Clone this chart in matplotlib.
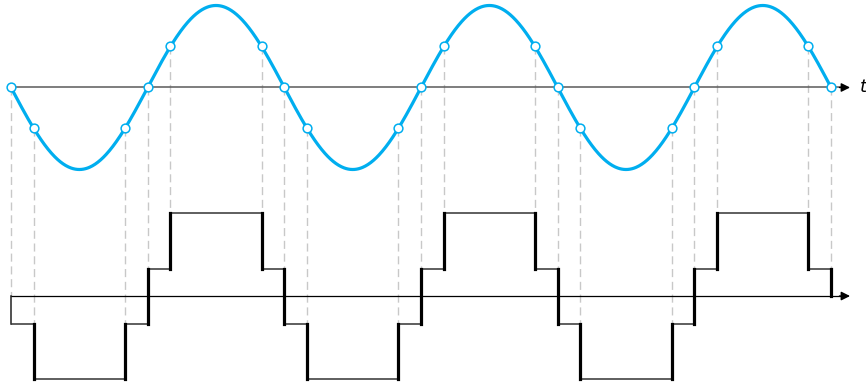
import numpy as np
import matplotlib
matplotlib.use('Agg')
import matplotlib.pyplot as plt

# ---- data ----
sample_phase_deg = [0, 30, 150, 180, 210, 330,
                    360, 390, 510, 540, 570, 690,
                    720, 750, 870, 900, 930, 1050,
                    1080]
sample_value = [0, -0.5, -0.5, 0, 0.5, 0.5,
                0, -0.5, -0.5, 0, 0.5, 0.5,
                0, -0.5, -0.5, 0, 0.5, 0.5,
                0]
# held (quantized) level on each interval between consecutive samples
hold_levels = [-0.5, -1.5, -0.5, 0.5, 1.5, 0.5,
               -0.5, -1.5, -0.5, 0.5, 1.5, 0.5,
               -0.5, -1.5, -0.5, 0.5, 1.5, 0.5]
end_level = 0
t_end_deg = 1080
axis_end_deg = 1105

# ---- layout constants ----
STAIR_BASE = -2.543
STEP = 0.671
BLUE = '#00AEEF'

fig = plt.figure(figsize=(8.66, 3.85), dpi=100)
ax = fig.add_axes([0, 0, 1, 1])
ax.set_xlim(-14.49, 1126.0)
ax.set_ylim(-3.628, 1.067)
ax.axis('off')

def sy(level):
    return STAIR_BASE + level * STEP

# dashed guides
levels_ext = [0] + hold_levels + [end_level]
for i, (t, v) in enumerate(zip(sample_phase_deg, sample_value)):
    prev_l = levels_ext[i]
    next_l = levels_ext[i + 1]
    top = max(prev_l, next_l)
    ax.plot([t, t], [v, sy(top)], color='#c8c8c8', lw=1.0,
            dashes=(5.8, 3.4), zorder=1, solid_capstyle='butt')

# axes lines with arrows
ax.plot([0, axis_end_deg - 8], [0, 0], color='#5a5a5a', lw=1.1, zorder=2)
ax.annotate('', xy=(axis_end_deg, 0), xytext=(axis_end_deg - 14, 0),
            arrowprops=dict(arrowstyle='-|>', color='black', lw=1.0,
                            mutation_scale=13, shrinkA=0, shrinkB=0), zorder=2)
ax.plot([0, axis_end_deg - 8], [sy(0), sy(0)], color='black', lw=0.9, zorder=2)
ax.annotate('', xy=(axis_end_deg, sy(0)), xytext=(axis_end_deg - 14, sy(0)),
            arrowprops=dict(arrowstyle='-|>', color='black', lw=1.0,
                            mutation_scale=13, shrinkA=0, shrinkB=0), zorder=2)
ax.text(1118, 0, 't', fontsize=13, style='italic', ha='left', va='center',
        color='black')

# staircase: thin horizontals
ax.plot([0, 0], [sy(0), sy(hold_levels[0])], color='#222222', lw=1.1, zorder=3)
for i, lvl in enumerate(hold_levels):
    t0, t1 = sample_phase_deg[i], sample_phase_deg[i + 1]
    ax.plot([t0, t1], [sy(lvl), sy(lvl)], color='#333333', lw=1.1, zorder=3,
            solid_capstyle='butt')
# thick verticals at sample transitions
for i in range(1, len(sample_phase_deg)):
    t = sample_phase_deg[i]
    ax.plot([t, t], [sy(levels_ext[i]), sy(levels_ext[i + 1])], color='black',
            lw=2.3, zorder=3, solid_capstyle='projecting')

# sine curve
tt = np.linspace(0, t_end_deg, 1200)
ax.plot(tt, -np.sin(np.deg2rad(tt)), color=BLUE, lw=2.3, zorder=4,
        solid_capstyle='round')
ax.plot(sample_phase_deg, sample_value, linestyle='none', marker='o',
        markersize=6.3, markerfacecolor='white', markeredgecolor=BLUE,
        markeredgewidth=1.1, zorder=5)

fig.savefig('out.png', dpi=100)
